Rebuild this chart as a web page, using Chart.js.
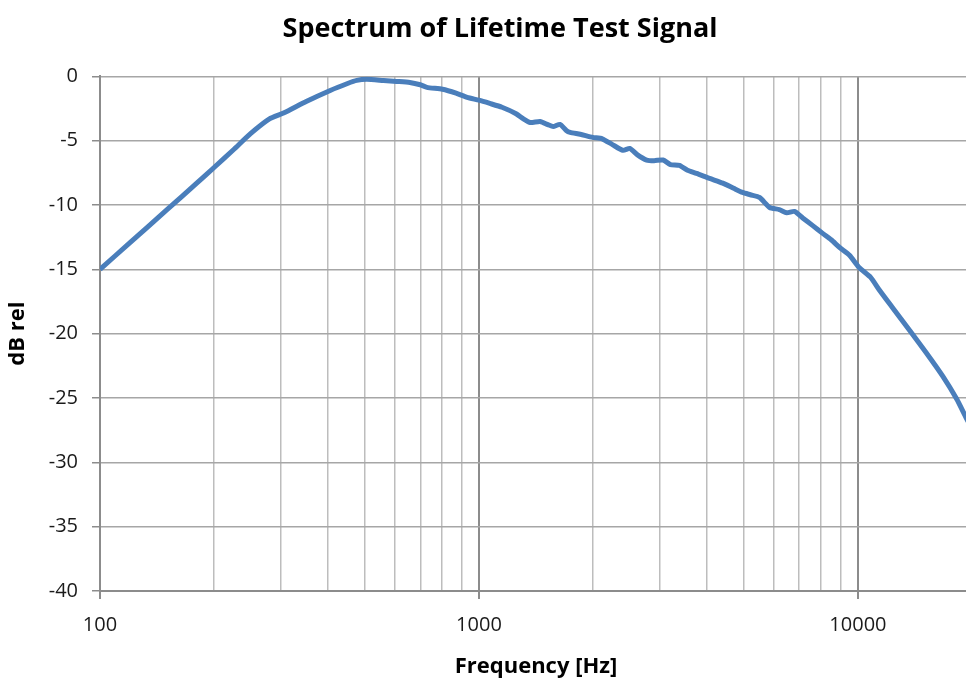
<!DOCTYPE html>
<html>
<head>
<meta charset="utf-8">
<script src="https://cdn.jsdelivr.net/npm/chart.js@4.4.1/dist/chart.umd.min.js"></script>
<style>
html,body{margin:0;padding:0;background:#fff;overflow:hidden;width:966px;height:681px;}
#wrap{width:966px;height:681px;overflow:hidden;position:relative;}
canvas{display:block;position:absolute;left:0;top:0;}
</style>
</head>
<body>
<div id="wrap"><canvas id="c" width="1000" height="681" style="width:1000px;height:681px;"></canvas></div>
<script>
const freqs = [100,120,150,180,200,225,250,280,305,350,405,450,476,506,560,607,657,700,729,801,870,931,1000,1068,1150,1253,1310,1365,1450,1520,1570,1636,1700,1740,1850,1995,2115,2250,2400,2500,2620,2770,2900,3060,3200,3380,3550,3750,4060,4400,4700,4960,5200,5500,5850,6200,6490,6800,7150,7600,8070,8500,8950,9500,10070,10790,11390,12330,13700,15160,16740,18240,19270,20000];
const dbValues = [-15,-12.92,-10.38,-8.3,-7.08,-5.7,-4.43,-3.3,-2.85,-1.95,-1.09,-0.55,-0.31,-0.23,-0.32,-0.39,-0.47,-0.65,-0.85,-1.0,-1.3,-1.63,-1.85,-2.1,-2.4,-2.9,-3.3,-3.58,-3.5,-3.75,-3.9,-3.73,-4.2,-4.35,-4.5,-4.74,-4.85,-5.3,-5.75,-5.6,-6.1,-6.5,-6.55,-6.5,-6.85,-6.92,-7.3,-7.54,-7.93,-8.3,-8.7,-9.02,-9.2,-9.41,-10.19,-10.35,-10.6,-10.5,-11.0,-11.6,-12.2,-12.7,-13.3,-13.9,-14.85,-15.6,-16.6,-17.96,-19.75,-21.5,-23.3,-25.1,-26.5,-27.4];
const xTickValues = [100,200,300,400,500,600,700,800,900,1000,2000,3000,4000,5000,6000,7000,8000,9000,10000,20000];
const xLabelValues = [100,1000,10000];

const isMajor = v => xLabelValues.includes(v);
const points = freqs.map((f,i)=>({x:f,y:dbValues[i]}));
const FONT = "'Open Sans', 'Liberation Sans', sans-serif";

new Chart(document.getElementById('c'), {
  type: 'line',
  data: { datasets: [{
    data: points,
    borderColor: '#4a7ebb',
    borderWidth: 5,
    pointRadius: 0,
    tension: 0.2,
    fill: false
  }]},
  options: {
    responsive: false,
    animation: false,
    layout: { padding: { left: 28, right: 28, top: 0, bottom: 0 } },
    plugins: {
      legend: { display: false },
      tooltip: { enabled: false },
      title: {
        display: true,
        text: 'Spectrum of Lifetime Test Signal',
        color: '#000',
        font: { family: FONT, size: 27, weight: 'bold' },
        padding: { top: 13, bottom: 31 }
      }
    },
    scales: {
      x: {
        type: 'logarithmic',
        min: 100, max: 20000,
        afterBuildTicks: s => { s.ticks = xTickValues.map(v=>({value:v})); },
        afterFit: s => { s.height = 90; },
        ticks: {
          autoSkip: false, maxRotation: 0,
          color: '#1a1a1a',
          font: { family: FONT, size: 20 },
          padding: 14,
          callback: v => isMajor(v) ? String(v) : ''
        },
        grid: {
          color: c => isMajor(c.tick && c.tick.value) ? '#8c8c8c' : '#bdbdbd',
          lineWidth: c => isMajor(c.tick && c.tick.value) ? 2 : 1.5,
          tickLength: 8,
          tickColor: c => isMajor(c.tick && c.tick.value) ? '#8c8c8c' : 'rgba(0,0,0,0)'
        },
        border: { color: '#8c8c8c', width: 2 },
        title: {
          display: true, text: 'Frequency [Hz]', color: '#000',
          font: { family: FONT, size: 22, weight: 'bold' },
          padding: { top: 0, bottom: 1 }
        }
      },
      y: {
        min: -40, max: 0,
        afterFit: s => { s.width = 72; },
        ticks: {
          stepSize: 5,
          color: '#1a1a1a',
          font: { family: FONT, size: 20 },
          padding: 14
        },
        grid: { color: '#a6a6a6', lineWidth: 1.5, tickLength: 8, tickColor: '#8c8c8c' },
        border: { color: '#8c8c8c', width: 2 },
        title: {
          display: true, text: 'dB rel', color: '#000',
          font: { family: FONT, size: 22, weight: 'bold' },
          padding: { top: -23, bottom: 0 }
        }
      }
    }
  }
});
</script>
</body>
</html>
